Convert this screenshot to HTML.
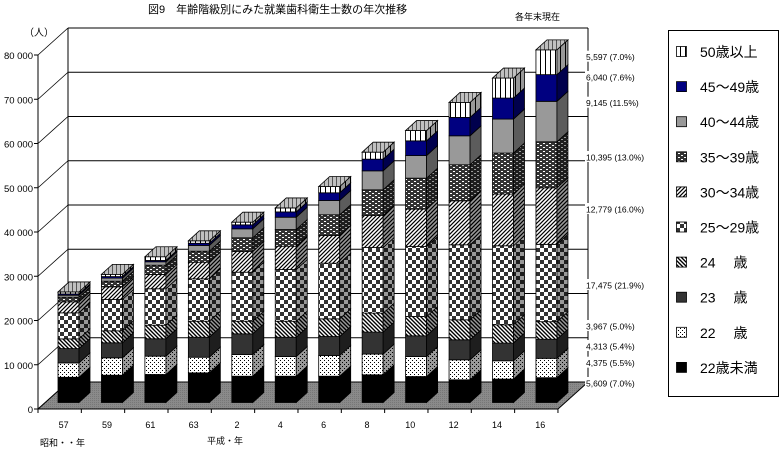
<!DOCTYPE html>
<html><head><meta charset="utf-8">
<style>
body{margin:0;background:#fff;}
svg{display:block;font-family:"Liberation Sans","Noto Sans CJK JP",sans-serif;}
</style></head>
<body>
<svg id="chart" width="780" height="451" viewBox="0 0 780 451" xmlns="http://www.w3.org/2000/svg">
<defs>
<pattern id="p-dots" patternUnits="userSpaceOnUse" width="4" height="4"><rect width="4" height="4" fill="#fff"/><rect x="0" y="0" width="1" height="1" fill="#000"/><rect x="2" y="2" width="1" height="1" fill="#000"/></pattern>
<pattern id="p-diag24" patternUnits="userSpaceOnUse" width="4" height="4"><rect width="4" height="4" fill="#fff"/><path d="M0,0 L4,4 M-1,3 L1,5 M3,-1 L5,1" stroke="#000" stroke-width="1.4"/></pattern>
<pattern id="p-check" patternUnits="userSpaceOnUse" width="8" height="8"><rect width="8" height="8" fill="#fff"/><rect width="4" height="4" fill="#333"/><rect x="4" y="4" width="4" height="4" fill="#333"/></pattern>
<pattern id="p-diag30" patternUnits="userSpaceOnUse" width="4" height="4"><rect width="4" height="4" fill="#fff"/><path d="M0,4 L4,0 M-1,1 L1,-1 M3,5 L5,3" stroke="#000" stroke-width="1.2"/></pattern>
<pattern id="p-brick" patternUnits="userSpaceOnUse" width="6" height="4"><rect width="6" height="4" fill="#333"/><rect x="0" y="1" width="2" height="1" fill="#fff"/><rect x="3" y="3" width="2" height="1" fill="#fff"/></pattern>
<pattern id="p-vert" patternUnits="userSpaceOnUse" width="5" height="4"><rect width="5" height="4" fill="#fff"/><rect x="0" width="1" height="4" fill="#000"/></pattern>
<pattern id="p-top" patternUnits="userSpaceOnUse" width="4" height="4"><rect width="4" height="4" fill="#c0c0c0"/><rect x="0" width="1" height="4" fill="#555"/></pattern>
<pattern id="p-floor" patternUnits="userSpaceOnUse" width="2" height="2"><rect width="2" height="2" fill="#8a8a8a"/><rect width="1" height="1" fill="#777"/></pattern>
</defs>
<text x="148" y="13" font-size="11">図9　年齢階級別にみた就業歯科衛生士数の年次推移</text>
<text x="515" y="20" font-size="9">各年末現在</text>
<text x="24" y="36" font-size="10">（人）</text>
<g id="axes"></g>
<g id="bars"></g>
<g id="notes"></g>
<text x="40" y="446" font-size="9">昭和・・年</text>
<text x="207" y="444" font-size="9">平成・年</text>
<g>
<rect x="668.5" y="30.5" width="110" height="366" fill="#fff" stroke="#000"/>
<g id="legend-items"></g>
</g>
</svg>
<script>
const categories=["57","59","61","63","2","4","6","8","10","12","14","16"];
const sUnder22=[5700,6170,6330,6700,5940,5940,5940,6260,5870,5130,5290,5609];
const s22=[3250,3930,4140,3530,4900,4450,4680,4680,4520,4520,4140,4375];
const s23=[3230,3390,3930,4520,4680,4360,4290,4970,4680,4520,4000,4313];
const s24=[2200,2710,3070,3620,2850,3620,4000,4290,4360,4520,4140,3967];
const s25=[5880,7070,8230,9580,11070,11680,12570,14820,15820,16950,17850,17475];
const s30=[2490,2870,3230,3750,4680,5270,6260,7230,8450,9940,11680,12779];
const s35=[1040,1270,2100,2490,3100,3770,4680,5810,7000,8140,9270,10395];
const s40=[450,700,770,1300,2030,2780,3230,4290,5110,6550,7680,9145];
const s45=[300,350,300,500,900,1200,1740,2640,3320,4160,4750,6040];
const s50=[450,500,840,550,600,900,1420,1580,2330,3390,4520,5597];
const yTicks=[0,10000,20000,30000,40000,50000,60000,70000,80000];
const yTickLabels=["0","10 000","20 000","30 000","40 000","50 000","60 000","70 000","80 000"];
const seriesNames=["22歳未満","22　 歳","23　 歳","24　 歳","25〜29歳","30〜34歳","35〜39歳","40〜44歳","45〜49歳","50歳以上"];
const noteLabels=["5,609 (7.0%)","4,375 (5.5%)","4,313 (5.4%)","3,967 (5.0%)","17,475 (21.9%)","12,779 (16.0%)","10,395 (13.0%)","9,145 (11.5%)","6,040 (7.6%)","5,597 (7.0%)"];

const series=[sUnder22,s22,s23,s24,s25,s30,s35,s40,s45,s50];
const fills=["#000","url(#p-dots)","#333","url(#p-diag24)","url(#p-check)","url(#p-diag30)","url(#p-brick)","#999","#000080","url(#p-vert)"];
const NS="http://www.w3.org/2000/svg";
function mk(tag,attrs,parent){const e=document.createElementNS(NS,tag);for(const k in attrs)e.setAttribute(k,attrs[k]);parent.appendChild(e);return e;}
const PX=0.004425;
const axisY=v=>409-v*PX;       // front axis
const barY=v=>402.5-v*PX;      // bar baseline depth
const step=43.33;
const barX=i=>58+i*43.45;
const DX=30,DY=-27,BW=21,BDX=11,BDY=-10;

const axes=document.getElementById('axes');
// floor
let f=mk('polygon',{points:`38,409 558,409 588,382 68,382`,fill:'url(#p-floor)',stroke:'#000','stroke-width':1},axes);

yTicks.forEach((v,k)=>{
  const y=axisY(v);
  if(k>0){const g=mk('line',{x1:68,y1:y+DY,x2:588,y2:y+DY,stroke:'#000','stroke-width':1},axes);
    }
  const d=mk('line',{x1:38,y1:y,x2:68,y2:y+DY,stroke:'#000','stroke-width':0.8},axes);
  
  const t=mk('line',{x1:34,y1:y,x2:38,y2:y,stroke:'#000'},axes);
  
  const l=mk('text',{x:33,y:y+4,'font-size':9.5,'text-anchor':'end'},axes);l.textContent=yTickLabels[k];
  
});
let a=mk('line',{x1:38,y1:axisY(80000),x2:38,y2:409,stroke:'#000'},axes);

a=mk('line',{x1:68,y1:axisY(80000)+DY,x2:68,y2:382,stroke:'#000'},axes);

a=mk('line',{x1:588,y1:axisY(80000)+DY,x2:588,y2:382,stroke:'#000'},axes);

a=mk('line',{x1:38,y1:409,x2:558,y2:409,stroke:'#000'},axes);

for(let k=0;k<=categories.length;k++){
  const x=38+k*step;
  const t=mk('line',{x1:x,y1:409,x2:x,y2:413,stroke:'#000'},axes);
  
}
categories.forEach((c,i)=>{
  const t=mk('text',{x:38+(i+0.5)*step+4,y:428,'font-size':9,'text-anchor':'middle'},axes);t.textContent=c;
  
});

const bars=document.getElementById('bars');
categories.forEach((c,i)=>{
  const g=mk('g',{},bars);
  
  const x=barX(i);let cum=0;
  series.forEach((s,j)=>{
    const yb=barY(cum);cum+=s[i];const yt=barY(cum);
    const r=mk('rect',{x:x,y:yt,width:BW,height:yb-yt,fill:fills[j],stroke:'#000','stroke-width':0.8},g);
    
    const pts=`${x+BW},${yt} ${x+BW+BDX},${yt+BDY} ${x+BW+BDX},${yb+BDY} ${x+BW},${yb}`;
    const sd=mk('polygon',{points:pts,fill:fills[j],stroke:'#000','stroke-width':0.8},g);
    
    const sh=mk('polygon',{points:pts,fill:'#000','fill-opacity':0.4},g);
    
  });
  const yt=barY(cum);
  const tp=mk('polygon',{points:`${x},${yt} ${x+BDX},${yt+BDY} ${x+BW+BDX},${yt+BDY} ${x+BW},${yt}`,fill:'url(#p-top)',stroke:'#000','stroke-width':0.8},g);
  
});

const notes=document.getElementById('notes');
const noteY=[383,362.7,346,326,285,209,157,102.7,77,56.7];
noteLabels.forEach((n,k)=>{
  const bg=mk('rect',{x:585,y:noteY[k]-6,width:82,height:11,fill:'#fff'},notes);
  
  const t=mk('text',{x:586,y:noteY[k]+3.5,'font-size':8.5},notes);t.textContent=n;
  
});

const li=document.getElementById('legend-items');
for(let j=9;j>=0;j--){
  const y=52+(9-j)*35.1;
  const r=mk('rect',{x:676.5,y:y-5.5,width:10,height:10,fill:fills[j],stroke:'#000','stroke-width':0.8},li);
  
  const t=mk('text',{x:700,y:y+5,'font-size':14},li);t.textContent=seriesNames[j];
  
}
</script>
</body></html>
